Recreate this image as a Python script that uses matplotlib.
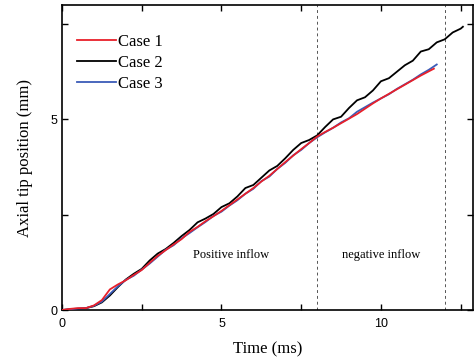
#!/usr/bin/env python3
"""Axial tip position vs time for three cases."""

import matplotlib
matplotlib.use("Agg")
import matplotlib.pyplot as plt
from matplotlib.ticker import MultipleLocator

# Case 1 (red)
t_case1 = [0, 0.25, 0.5, 0.75, 1.0, 1.25, 1.5, 1.75, 2.0, 2.25, 2.5, 2.75, 3.0, 3.25,
           3.5, 3.75, 4.0, 4.25, 4.5, 4.75, 5.0, 5.25, 5.5, 5.75, 6.0, 6.25, 6.5, 6.75,
           7.0, 7.25, 7.5, 7.75, 8.0, 8.25, 8.5, 8.75, 9.0, 9.25, 9.5, 9.75, 10.0,
           10.25, 10.5, 10.75, 11.0, 11.25, 11.5, 11.66]
y_case1 = [0, 0.03, 0.05, 0.05, 0.12, 0.26, 0.54, 0.67, 0.78, 0.92, 1.05, 1.24, 1.42, 1.57,
           1.72, 1.86, 2.05, 2.18, 2.33, 2.46, 2.6, 2.75, 2.9, 3.05, 3.2, 3.37, 3.52, 3.7,
           3.88, 4.05, 4.22, 4.38, 4.55, 4.67, 4.78, 4.9, 5.02, 5.14, 5.28, 5.42, 5.55,
           5.67, 5.79, 5.91, 6.03, 6.15, 6.26, 6.33]

# Case 2 (black)
t_case2 = [0, 0.25, 0.5, 0.75, 1.0, 1.25, 1.5, 1.75, 2.0, 2.25, 2.5, 2.75, 3.0, 3.25,
           3.5, 3.75, 4.0, 4.25, 4.5, 4.75, 5.0, 5.25, 5.5, 5.75, 6.0, 6.25, 6.5, 6.75,
           7.0, 7.25, 7.5, 7.75, 8.0, 8.25, 8.5, 8.75, 9.0, 9.25, 9.5, 9.75, 10.0,
           10.25, 10.5, 10.75, 11.0, 11.25, 11.5, 11.75, 12.0, 12.25, 12.5, 12.57]
y_case2 = [0, 0.02, 0.03, 0.05, 0.1, 0.2, 0.38, 0.6, 0.8, 0.95, 1.08, 1.3, 1.48, 1.6,
           1.76, 1.94, 2.1, 2.3, 2.4, 2.52, 2.7, 2.8, 2.98, 3.2, 3.28, 3.47, 3.66, 3.78,
           3.98, 4.2, 4.38, 4.46, 4.58, 4.8, 5.0, 5.07, 5.3, 5.5, 5.58, 5.76, 6.0,
           6.08, 6.25, 6.42, 6.54, 6.78, 6.84, 7.02, 7.1, 7.28, 7.38, 7.43]

# Case 3 (blue)
t_case3 = [0, 0.25, 0.5, 0.75, 1.0, 1.25, 1.5, 1.75, 2.0, 2.25, 2.5, 2.75, 3.0, 3.25,
           3.5, 3.75, 4.0, 4.25, 4.5, 4.75, 5.0, 5.25, 5.5, 5.75, 6.0, 6.25, 6.5, 6.75,
           7.0, 7.25, 7.5, 7.75, 8.0, 8.25, 8.5, 8.75, 9.0, 9.25, 9.5, 9.75, 10.0,
           10.25, 10.5, 10.75, 11.0, 11.25, 11.5, 11.75]
y_case3 = [0, 0.02, 0.04, 0.05, 0.11, 0.22, 0.42, 0.62, 0.79, 0.9, 1.06, 1.22, 1.4, 1.58,
           1.7, 1.88, 2.02, 2.17, 2.31, 2.47, 2.58, 2.74, 2.88, 3.05, 3.18, 3.38, 3.5, 3.7,
           3.86, 4.06, 4.2, 4.38, 4.53, 4.66, 4.78, 4.92, 5.03, 5.2, 5.32, 5.44, 5.55,
           5.66, 5.8, 5.92, 6.04, 6.18, 6.3, 6.44]

phase_bounds = [8, 12]
phase_labels = ["Positive inflow", "negative inflow"]
phase_label_x = [5.3, 10.0]
phase_label_y = 1.45


def main():
    fig = plt.figure(figsize=(4.74, 3.58), dpi=100)
    ax = fig.add_axes([0.1308, 0.134, 0.868, 0.852])

    ax.plot(t_case1, y_case1, color="#e8202a", lw=1.3, label="Case 1", zorder=4)
    ax.plot(t_case2, y_case2, color="black", lw=1.3, label="Case 2", zorder=3)
    ax.plot(t_case3, y_case3, color="#3b5cb8", lw=1.3, label="Case 3", zorder=3.5)

    for xb in phase_bounds:
        ax.axvline(xb, color="#555555", lw=0.7, ls=(0, (3, 3)), zorder=1)
    for txt, xt in zip(phase_labels, phase_label_x):
        ax.text(xt, phase_label_y, txt, ha="center", va="center",
                fontsize=9, family="Liberation Serif")

    ax.set_xlim(0, 12.9)
    ax.set_ylim(0, 8)
    ax.xaxis.set_major_locator(MultipleLocator(5))
    ax.xaxis.set_minor_locator(MultipleLocator(2.5))
    ax.yaxis.set_major_locator(MultipleLocator(5))
    ax.yaxis.set_minor_locator(MultipleLocator(2.5))
    ax.tick_params(which="both", direction="in", top=True, right=True, width=1)
    ax.tick_params(which="major", length=4, labelsize=9)
    ax.tick_params(which="minor", length=4)
    ax.tick_params(axis="x", which="major", pad=6)
    for lab in ax.get_xticklabels() + ax.get_yticklabels():
        lab.set_family("Liberation Sans")
    for sp in ax.spines.values():
        sp.set_linewidth(1.2)

    ax.set_xlabel("Time (ms)", family="Liberation Serif", fontsize=12, labelpad=8)
    ax.set_ylabel("Axial tip position (mm)", family="Liberation Serif", fontsize=12, labelpad=12)

    ax.legend(loc="upper left", bbox_to_anchor=(-0.005, 0.961), frameon=False,
              handlelength=2.35, handletextpad=0.15, labelspacing=0.3, borderaxespad=0.6,
              prop={"family": "Liberation Serif", "size": 12})

    fig.savefig("out.png", dpi=100)


if __name__ == "__main__":
    main()
